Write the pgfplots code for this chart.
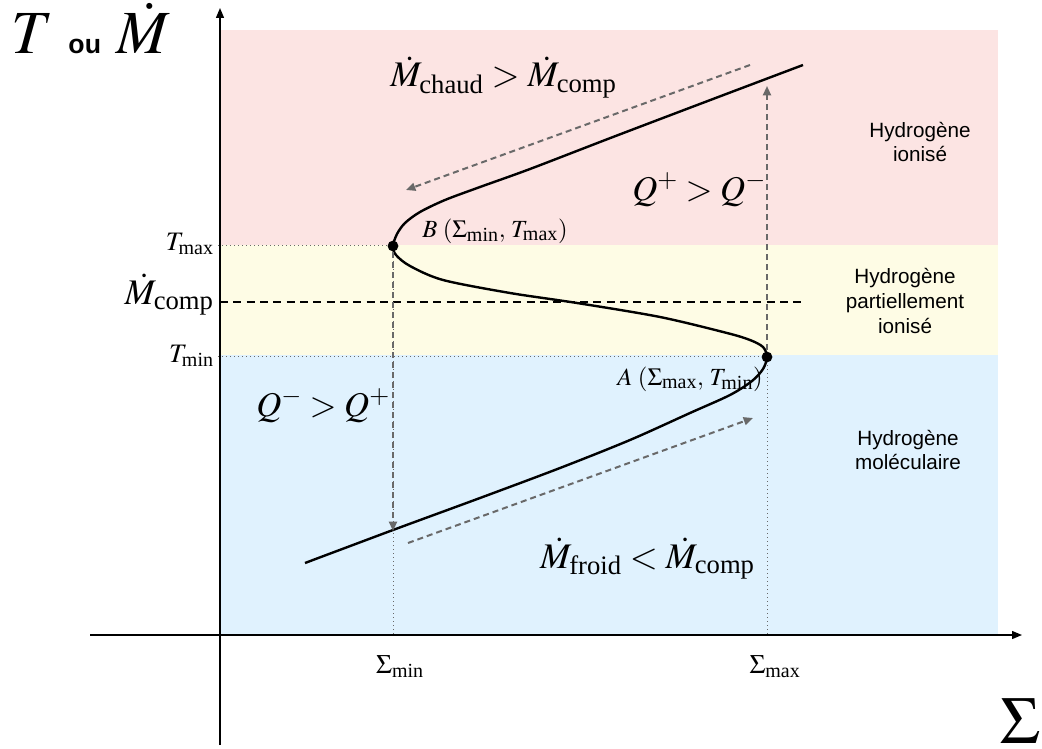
\documentclass[border=0pt]{standalone}
\usepackage{mathptmx}
\usepackage{fontspec}
\setmainfont{Liberation Serif}
\setsansfont{Liberation Sans}
\usepackage{pgfplots}
\pgfplotsset{compat=1.18}
\usetikzlibrary{arrows.meta}

\definecolor{chaud}{RGB}{252,228,227}
\definecolor{partiel}{RGB}{254,252,229}
\definecolor{froid}{RGB}{224,242,254}
\definecolor{fleche}{RGB}{105,105,105}

% subscript set in text font at a given size
\newcommand{\sbx}[2]{_{\hbox{\fontsize{#1}{#1}\selectfont #2}}}

\begin{document}
\begin{tikzpicture}
\begin{axis}[
  width=781.5pt, height=561.75pt, scale only axis,
  xmin=0, xmax=1042, ymin=0, ymax=749, y dir=reverse,
  hide axis, clip=false,
]
% zones
\addplot[fill=chaud, draw=none] coordinates {(220,30) (998,30) (998,245) (220,245)};
\addplot[fill=partiel, draw=none] coordinates {(220,245) (998,245) (998,355) (220,355)};
\addplot[fill=froid, draw=none] coordinates {(220,355) (998,355) (998,635) (220,635)};

% repères pointillés
\addplot[fleche, line width=0.6pt, dash pattern=on 1pt off 2pt] coordinates {(218,245) (393,245)};
\addplot[fleche, line width=0.6pt, dash pattern=on 1pt off 2pt] coordinates {(218,356) (767,356)};
\addplot[fleche, line width=0.6pt, dash pattern=on 1pt off 2pt] coordinates {(393,245) (393,635)};
\addplot[fleche, line width=0.6pt, dash pattern=on 1pt off 2pt] coordinates {(767,357) (767,635)};
\addplot[black, line width=1.3pt, dash pattern=on 6pt off 4pt] coordinates {(220,302) (803,302)};

% courbe en S
\addplot[black, smooth, line width=1.8pt] coordinates {
  (305,563) (393,530) (480,498) (560,468) (630,440) (690,413) (730,395)
  (752,381) (763,369) (767,357) (763,347) (750,340) (727,333) (660,317)
  (577,303) (510,293) (443,280) (410,266) (396,255) (393,246) (397,234)
  (405,223) (420,212) (445,200) (480,187) (530,169) (613,137) (713,99) (803,65)};

% flèches du cycle
\addplot[fleche, line width=1.5pt, dash pattern=on 4.5pt off 3pt, -{Triangle[length=7pt,width=6pt]}]
  coordinates {(750,65) (406,190)};
\addplot[fleche, line width=1.5pt, dash pattern=on 4.5pt off 3pt, -{Triangle[length=7pt,width=6pt]}]
  coordinates {(408,543) (753,418)};
\addplot[fleche, line width=1.5pt, dash pattern=on 4.5pt off 3pt, -{Triangle[length=7pt,width=6pt]}]
  coordinates {(767,350) (767,86)};
\addplot[fleche, line width=1.5pt, dash pattern=on 4.5pt off 3pt, -{Triangle[length=7pt,width=6pt]}]
  coordinates {(393,252) (393,531)};

% axes
\addplot[black, line width=1pt, -{Triangle[length=7.5pt,width=6pt]}] coordinates {(220,745) (220,8)};
\addplot[black, line width=1pt, -{Triangle[length=7.5pt,width=6pt]}] coordinates {(90,635) (1022,635)};

% points A et B
\addplot[only marks, mark=*, mark size=3.8pt, black] coordinates {(393,246) (767,357)};

% textes
\node[anchor=base west, inner sep=0] at (axis cs:11,54)
  {\fontsize{46}{50}\selectfont$T$ {\fontsize{20}{22}\selectfont\sffamily\bfseries ou} $\dot{M}$};
\node[anchor=base west, inner sep=0] at (axis cs:390,87)
  {\fontsize{27}{30}\selectfont$\dot{M}\sbx{20}{chaud} > \dot{M}\sbx{20}{comp}$};
\node[anchor=base west, inner sep=0] at (axis cs:632,200)
  {\fontsize{26}{30}\selectfont$Q^{+} > Q^{-}$};
\node[anchor=base west, inner sep=0] at (axis cs:256,416)
  {\fontsize{26}{30}\selectfont$Q^{-} > Q^{+}$};
\node[anchor=base east, inner sep=0] at (axis cs:755,568)
  {\fontsize{27}{30}\selectfont$\dot{M}\sbx{20}{froid} < \dot{M}\sbx{20}{comp}$};
\node[anchor=base west, inner sep=0] at (axis cs:422,237)
  {\fontsize{18.5}{20}\selectfont$B\;(\Sigma\sbx{15}{min},\,T\sbx{15}{max})$};
\node[anchor=base east, inner sep=0] at (axis cs:763,385)
  {\fontsize{18.5}{20}\selectfont$A\;(\Sigma\sbx{15}{max},\,T\sbx{15}{min})$};
\node[anchor=base east, inner sep=0] at (axis cs:214,250)
  {\fontsize{20}{24}\selectfont$T\sbx{15}{max}$};
\node[anchor=base east, inner sep=0] at (axis cs:214,304)
  {\fontsize{27}{30}\selectfont$\dot{M}\sbx{20}{comp}$};
\node[anchor=base east, inner sep=0] at (axis cs:214,362)
  {\fontsize{20}{24}\selectfont$T\sbx{15}{min}$};
\node[anchor=base, inner sep=0] at (axis cs:400,673)
  {\fontsize{20}{24}\selectfont$\Sigma\sbx{15}{min}$};
\node[anchor=base, inner sep=0] at (axis cs:775,673)
  {\fontsize{20}{24}\selectfont$\Sigma\sbx{15}{max}$};
\node[anchor=base, inner sep=0] at (axis cs:1020,743)
  {\fontsize{50}{56}\selectfont$\Sigma$};

\node[align=center, inner sep=0, font=\sffamily\fontsize{15.5}{18.5}\selectfont] at (axis cs:920,142)
  {Hydrogène\\ionisé};
\node[align=center, inner sep=0, font=\sffamily\fontsize{15.5}{18.5}\selectfont] at (axis cs:905,301)
  {Hydrogène\\partiellement\\ionisé};
\node[align=center, inner sep=0, font=\sffamily\fontsize{15.5}{18.5}\selectfont] at (axis cs:908,450)
  {Hydrogène\\moléculaire};
\end{axis}
\pgfresetboundingbox
\path (current axis.south west) rectangle (current axis.north east);
\end{tikzpicture}
\end{document}
